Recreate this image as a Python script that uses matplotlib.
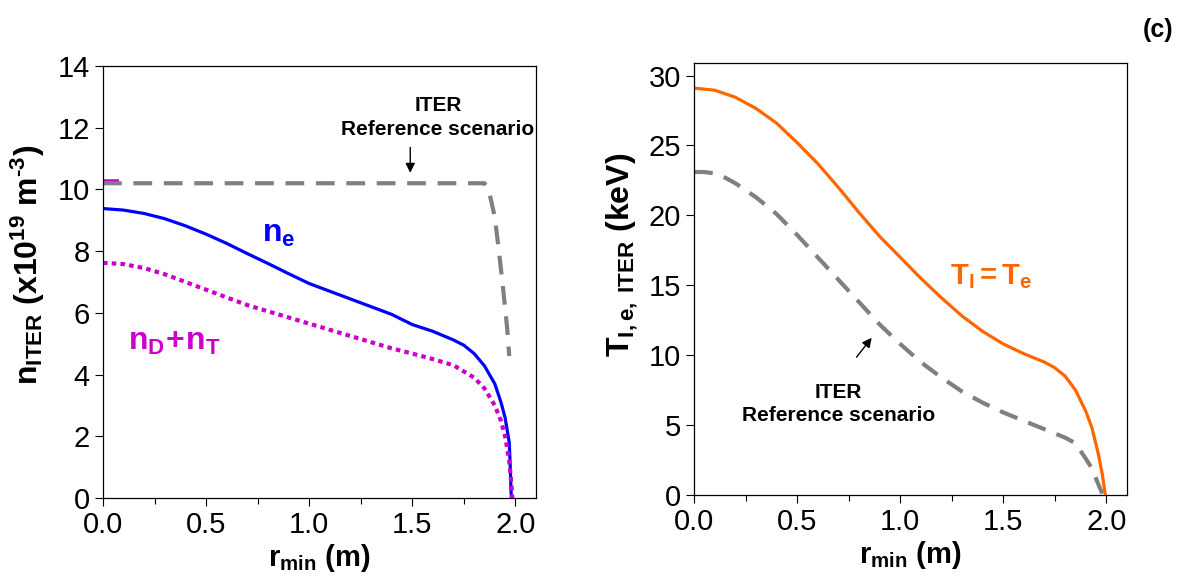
import numpy as np
import matplotlib
matplotlib.use("Agg")
import matplotlib.pyplot as plt

plt.rcParams['font.family'] = ['Liberation Sans', 'DejaVu Sans']
plt.rcParams['mathtext.fontset'] = 'custom'
plt.rcParams['mathtext.rm'] = 'Liberation Sans'
plt.rcParams['mathtext.bf'] = 'Liberation Sans:bold'
plt.rcParams['mathtext.it'] = 'Liberation Sans:italic'

# ---- left panel: densities ----
r_ref_n = [0.0, 0.5, 1.0, 1.5, 1.85, 1.87, 1.9, 1.92, 1.94, 1.96, 1.97]
n_ref = [10.2, 10.2, 10.2, 10.2, 10.2, 10.0, 9.1, 8.0, 6.8, 5.5, 4.6]

r_ne = [0.0, 0.1, 0.2, 0.3, 0.4, 0.5, 0.6, 0.7, 0.8, 0.9, 1.0, 1.1, 1.2, 1.3, 1.4,
        1.5, 1.6, 1.7, 1.75, 1.8, 1.85, 1.9, 1.93, 1.95, 1.97, 1.975, 1.98]
ne = [9.38, 9.33, 9.22, 9.05, 8.82, 8.55, 8.25, 7.92, 7.6, 7.27, 6.95, 6.7, 6.45, 6.2, 5.95,
      5.62, 5.4, 5.12, 4.95, 4.68, 4.28, 3.7, 3.1, 2.6, 1.8, 1.0, 0.0]

r_ndt = [0.0, 0.1, 0.2, 0.3, 0.4, 0.5, 0.6, 0.7, 0.8, 0.9, 1.0, 1.1, 1.2, 1.3, 1.4,
         1.5, 1.6, 1.7, 1.8, 1.85, 1.9, 1.93, 1.95, 1.97, 1.98, 1.985]
ndt = [7.62, 7.58, 7.45, 7.25, 7.0, 6.75, 6.5, 6.25, 6.05, 5.85, 5.65, 5.45, 5.25, 5.05, 4.85,
       4.68, 4.5, 4.3, 3.9, 3.55, 3.0, 2.5, 2.0, 1.2, 0.5, 0.0]

# ---- right panel: temperatures ----
r_ti = [0.0, 0.1, 0.2, 0.3, 0.4, 0.5, 0.6, 0.7, 0.8, 0.9, 1.0, 1.1, 1.2, 1.3, 1.4,
        1.5, 1.6, 1.7, 1.75, 1.8, 1.85, 1.9, 1.93, 1.96, 1.98, 1.995]
ti = [29.1, 28.95, 28.45, 27.65, 26.6, 25.2, 23.7, 22.0, 20.2, 18.5, 17.0, 15.5, 14.1, 12.8, 11.7,
      10.8, 10.1, 9.5, 9.1, 8.5, 7.5, 6.0, 4.8, 3.0, 1.5, 0.0]

r_ref_t = [0.0, 0.05, 0.1, 0.15, 0.2, 0.3, 0.4, 0.5, 0.6, 0.7, 0.8, 0.9, 1.0, 1.1, 1.2,
           1.3, 1.4, 1.5, 1.6, 1.7, 1.8, 1.85, 1.9, 1.93, 1.96, 1.98]
t_ref = [23.1, 23.1, 23.0, 22.7, 22.3, 21.3, 20.1, 18.6, 17.0, 15.4, 13.8, 12.2, 10.8, 9.5, 8.4,
         7.4, 6.6, 5.9, 5.3, 4.7, 4.1, 3.7, 2.6, 1.9, 0.8, 0.1]

fig = plt.figure(figsize=(11.96, 5.83), dpi=100)
ax1 = fig.add_axes([0.0861, 0.1458, 0.3621, 0.741])
ax2 = fig.add_axes([0.5803, 0.151, 0.362, 0.741])

gray = '#808080'
dash = (0, (4.5, 2.8))

ax1.plot([0.0, 0.08], [10.25, 10.25], color='#cc00cc', lw=4, solid_capstyle='butt')
ax1.plot(r_ref_n, n_ref, color=gray, lw=3, linestyle=dash)
ax1.plot(r_ne, ne, color='#0000ff', lw=2.3)
ax1.plot(r_ndt, ndt, color='#cc00cc', lw=3, linestyle=(0, (1.1, 1.0)))

ax2.plot(r_ref_t, t_ref, color=gray, lw=3, linestyle=dash)
ax2.plot(r_ti, ti, color='#ff6600', lw=2.3)

for ax in (ax1, ax2):
    ax.set_xlim(0, 2.1)
    ax.set_xticks([0.0, 0.5, 1.0, 1.5, 2.0])
    ax.set_xticklabels(['0.0', '0.5', '1.0', '1.5', '2.0'])
    ax.set_xticks(np.arange(0.25, 2.0, 0.5), minor=True)
    ax.tick_params(axis='both', which='major', direction='out', length=6, width=0.8,
                   labelsize=21, top=False, right=False)
    ax.tick_params(axis='x', which='minor', direction='out', length=4, width=0.8, top=False)
    for s in ax.spines.values():
        s.set_linewidth(0.9)
    ax.set_xlabel(r'$\mathbf{r_{min}\ (m)}$', fontsize=21, labelpad=2)

ax1.set_ylim(0, 14)
ax1.set_yticks(np.arange(0, 15, 2))
ax1.set_ylabel('$\\mathbf{n_{ITER}\\ (x10^{19}\\ m^{\u20103})}$', fontsize=23)
ax1.yaxis.set_label_coords(-0.13, 0.54)

ax2.set_ylim(0, 30.9)
ax2.set_yticks(np.arange(0, 31, 5))
ax2.set_ylabel(r'$\mathbf{T_{I,e,\ ITER}\ (keV)}$', fontsize=23)
ax2.yaxis.set_label_coords(-0.125, 0.555)

# annotations left
ax1.text(1.625, 12.33, 'ITER\nReference scenario', ha='center', va='center',
         fontsize=15, fontweight='bold', linespacing=1.3)
ax1.annotate('', xy=(1.49, 10.45), xytext=(1.49, 11.45),
             arrowprops=dict(arrowstyle='-|>', color='black', lw=1, mutation_scale=14))
ax1.text(0.77, 8.55, r'$\mathbf{n_e}$', color='#0000ff', fontsize=23, ha='left', va='center')
ax1.text(0.12, 5.05, r'$\mathbf{n_D\!+\!n_T}$', color='#cc00cc', fontsize=23, ha='left', va='center')

# annotations right
ax2.text(0.70, 6.5, 'ITER\nReference scenario', ha='center', va='center',
         fontsize=15, fontweight='bold', linespacing=1.3)
ax2.annotate('', xy=(0.87, 11.4), xytext=(0.78, 9.7),
             arrowprops=dict(arrowstyle='-|>', color='black', lw=1, mutation_scale=14))
ax2.text(1.24, 15.6, r'$\mathbf{T_I = T_e}$', color='#ff6600', fontsize=21, ha='left', va='center')

fig.text(0.968, 0.948, '(c)', fontsize=18, fontweight='bold', ha='center', va='center')

fig.savefig('out.png', dpi=100)
